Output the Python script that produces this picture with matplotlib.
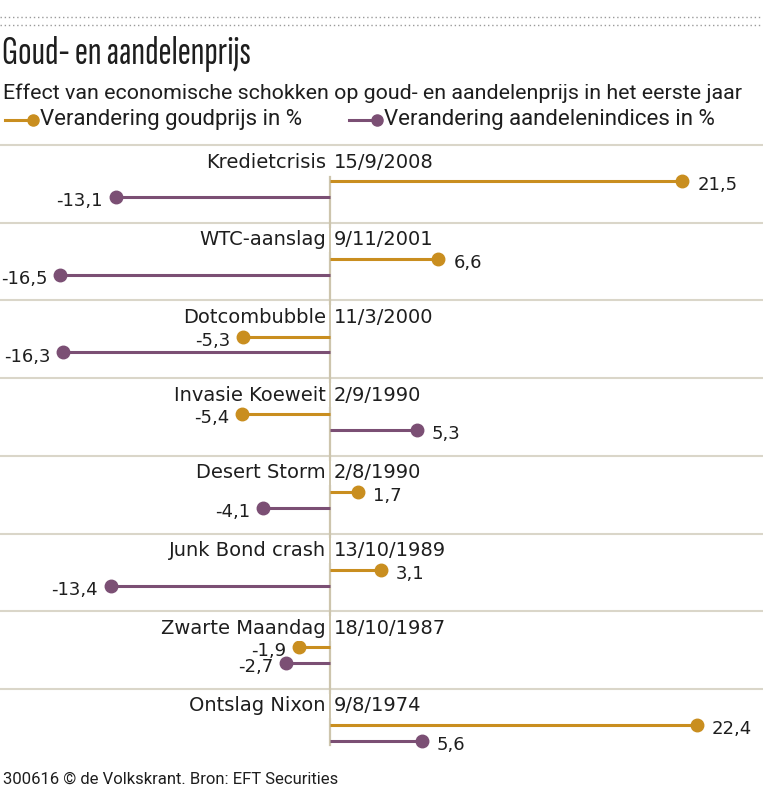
import matplotlib
matplotlib.use("Agg")
import matplotlib.pyplot as plt

# Data
events = ["Kredietcrisis", "WTC-aanslag", "Dotcombubble", "Invasie Koeweit",
          "Desert Storm", "Junk Bond crash", "Zwarte Maandag", "Ontslag Nixon"]
dates = ["15/9/2008", "9/11/2001", "11/3/2000", "2/9/1990",
         "2/8/1990", "13/10/1989", "18/10/1987", "9/8/1974"]
gold = [21.5, 6.6, -5.3, -5.4, 1.7, 3.1, -1.9, 22.4]
stocks = [-13.1, -16.5, -16.3, 5.3, -4.1, -13.4, -2.7, 5.6]

GOLD = "#C98E1F"
PURPLE = "#7B4F74"
GRID = "#DAD6C9"
ZERO = "#CDC5AD"
TXT = "#1E1E1E"

title_font = ["Sofia Sans Extra Condensed", "Roboto Condensed", "DejaVu Sans"]
head_font = ["Roboto", "DejaVu Sans"]
body = "DejaVu Sans"

W, H = 763, 792
fig = plt.figure(figsize=(W / 100, H / 100), dpi=100)
ax = fig.add_axes([0, 0, 1, 1])

# x: value units with zero at 330 px; y: row units, row 0 top at 145 px
px_per_unit = 16.37
row_h = 77.7
ax.set_xlim(-330 / px_per_unit, (W - 330) / px_per_unit)
ax.set_ylim((H - 145) / row_h, -145 / row_h)
ax.axis("off")

n = len(events)
y_lab, y_gold, y_stock = 0.22, 0.465, 0.67

# separators
for i in range(n):
    ax.axhline(i, color=GRID, lw=1.5, zorder=1)

# zero line
ax.plot([0, 0], [y_gold - 0.05, n - 1 + y_stock + 0.05], color=ZERO, lw=1.6, zorder=2)

for i in range(n):
    ax.text(-0.25, i + y_lab, events[i], ha="right", va="center", fontsize=14,
            family=body, color=TXT, zorder=4,
            bbox=dict(facecolor="white", edgecolor="none", pad=2))
    ax.text(0.25, i + y_lab, dates[i], ha="left", va="center", fontsize=14,
            family=body, color=TXT, zorder=4,
            bbox=dict(facecolor="white", edgecolor="none", pad=2))
    for v, yy, c in ((gold[i], y_gold, GOLD), (stocks[i], y_stock, PURPLE)):
        ax.plot([0, v], [i + yy, i + yy], color=c, lw=2.2, zorder=3,
                solid_capstyle="butt")
        ax.plot([v], [i + yy], "o", color=c, ms=9, zorder=3)
        s = ("%.1f" % v).replace(".", ",")
        dx = 11 if v > 0 else -9
        ax.annotate(s, (v, i + yy), xytext=(dx, -3), textcoords="offset points",
                    ha="left" if v > 0 else "right", va="center", fontsize=13,
                    family=body, color=TXT)

# header
for yy in (17, 25):
    fig.add_artist(plt.Line2D([0, 1], [1 - yy / H, 1 - yy / H], color="#9A9A9A",
                              lw=1, ls=(0, (1, 2))))
fig.text(2 / W, 1 - 54 / H, "Goud- en aandelenprijs", fontsize=28.5, family=title_font,
         weight="light", color=TXT, va="center", ha="left")
fig.text(3 / W, 1 - 93 / H,
         "Effect van economische schokken op goud- en aandelenprijs in het eerste jaar",
         fontsize=15.4, family=head_font, color=TXT, va="center", ha="left")

# legend
for x0, c, label in ((5, GOLD, "Verandering goudprijs in %"),
                     (349, PURPLE, "Verandering aandelenindices in %")):
    fig.add_artist(plt.Line2D([x0 / W, (x0 + 28) / W], [1 - 120 / H] * 2, color=c, lw=2.2))
    fig.add_artist(plt.Line2D([(x0 + 28) / W], [1 - 120 / H], marker="o", color=c, ms=8))
    fig.text((x0 + 35) / W, 1 - 119 / H, label, fontsize=16, family=head_font,
             color=TXT, va="center", ha="left")

fig.text(3 / W, 1 - 779 / H, "300616 \u00a9 de Volkskrant. Bron: EFT Securities",
         fontsize=12, family=head_font, color=TXT, va="center", ha="left")

fig.savefig("out.png", dpi=100)
